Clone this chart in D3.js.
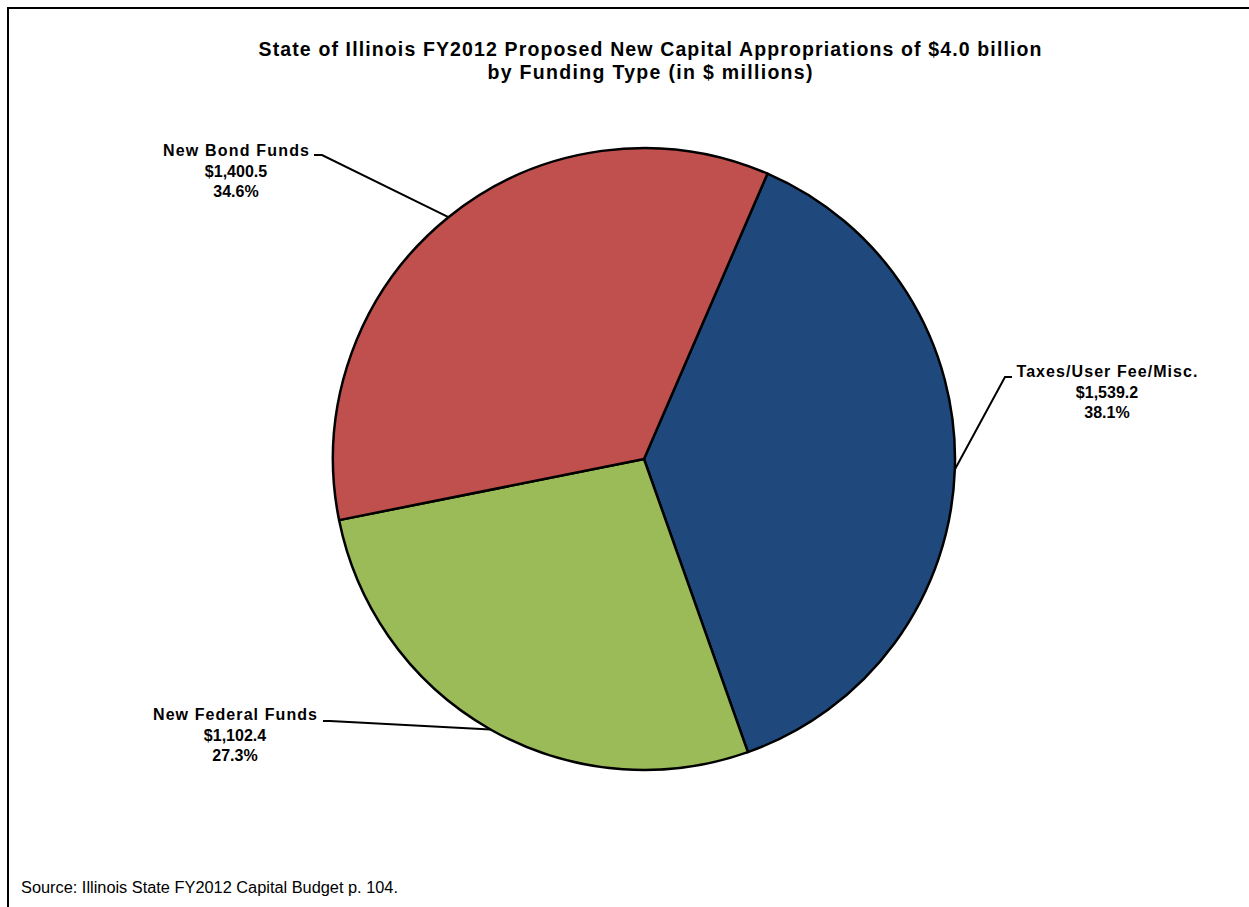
<!DOCTYPE html>
<html>
<head>
<meta charset="utf-8">
<script src="https://cdn.jsdelivr.net/npm/d3@7.9.0/dist/d3.min.js"></script>
<style>
  body { margin: 0; background: #fff; }
  svg { display: block; font-family: "Liberation Sans", Arial, sans-serif; }
</style>
</head>
<body>
<div id="chart"></div>
<script>
const categories = ['Taxes/User Fee/Misc.', 'New Federal Funds', 'New Bond Funds'];
const values = [1539.2, 1102.4, 1400.5];
const percents = ['38.1%', '27.3%', '34.6%'];
const colors = ['#1F497D', '#9BBB59', '#C0504D'];
const titleLines = [
    'State of Illinois  FY2012 Proposed New Capital Appropriations of $4.0 billion',
    'by Funding Type (in $ millions)'
];
const sourceNote = 'Source: Illinois State FY2012 Capital Budget p. 104.';

const width = 1249;
const height = 907;
const cx = 644, cy = 459, radius = 311;
const startAngle = 23.4 * Math.PI / 180;

// label block centre + first baseline, name width, leader stub (outer end, junction)
const labelPos = [
    { x: 1107, y: 377, w: 181, stub: [[1012, 377], [1005, 377]] },
    { x: 235, y: 720, w: 164, stub: [[323, 721], [330, 721]] },
    { x: 236, y: 156, w: 146, stub: [[314, 155], [322, 155]] }
];

const svg = d3.select('#chart')
    .append('svg')
    .attr('width', width)
    .attr('height', height);

svg.append('rect')
    .attr('x', 8).attr('y', 8)
    .attr('width', width + 20).attr('height', height + 20)
    .attr('fill', '#fff')
    .attr('stroke', '#000')
    .attr('stroke-width', 2);

const titleWidths = [783, 325];
svg.selectAll('text.title')
    .data(titleLines)
    .join('text')
    .attr('class', 'title')
    .attr('text-anchor', 'middle')
    .attr('font-weight', 'bold')
    .attr('font-size', 19.5)
    .attr('x', 650)
    .attr('y', (d, i) => 56 + i * 23)
    .attr('textLength', (d, i) => titleWidths[i])
    .attr('lengthAdjust', 'spacing')
    .text(d => d);

const pie = d3.pie()
    .sort(null)
    .value(d => d)
    .startAngle(startAngle)
    .endAngle(startAngle + 2 * Math.PI);

const arcs = pie(values);
const arc = d3.arc().innerRadius(0).outerRadius(radius);

const g = svg.append('g').attr('transform', `translate(${cx},${cy})`);

g.selectAll('path')
    .data(arcs)
    .join('path')
    .attr('d', arc)
    .attr('fill', (d, i) => colors[i])
    .attr('stroke', '#000')
    .attr('stroke-width', 2.5)
    .attr('stroke-linejoin', 'round');

const fmt = d3.format(',.1f');
const leaderArc = d3.arc().innerRadius(radius).outerRadius(radius);

arcs.forEach((d, i) => {
    const lp = labelPos[i];
    const [px, py] = leaderArc.centroid(d);
    const [a, b] = lp.stub;
    svg.append('polyline')
        .attr('points', `${a[0]},${a[1]} ${b[0]},${b[1]} ${cx + px},${cy + py}`)
        .attr('fill', 'none')
        .attr('stroke', '#000')
        .attr('stroke-width', 2);

    [categories[i], '$' + fmt(values[i]), percents[i]].forEach((s, k) => {
        const t = svg.append('text')
            .attr('text-anchor', 'middle')
            .attr('font-weight', 'bold')
            .attr('font-size', 16)
            .attr('x', lp.x)
            .attr('y', lp.y + k * 20.5)
            .text(s);
        if (k === 0) t.attr('textLength', lp.w).attr('lengthAdjust', 'spacing');
    });
});

svg.append('text')
    .attr('x', 21)
    .attr('y', 893)
    .attr('font-size', 16)
    .attr('textLength', 377)
    .attr('lengthAdjust', 'spacingAndGlyphs')
    .text(sourceNote);
</script>
</body>
</html>
